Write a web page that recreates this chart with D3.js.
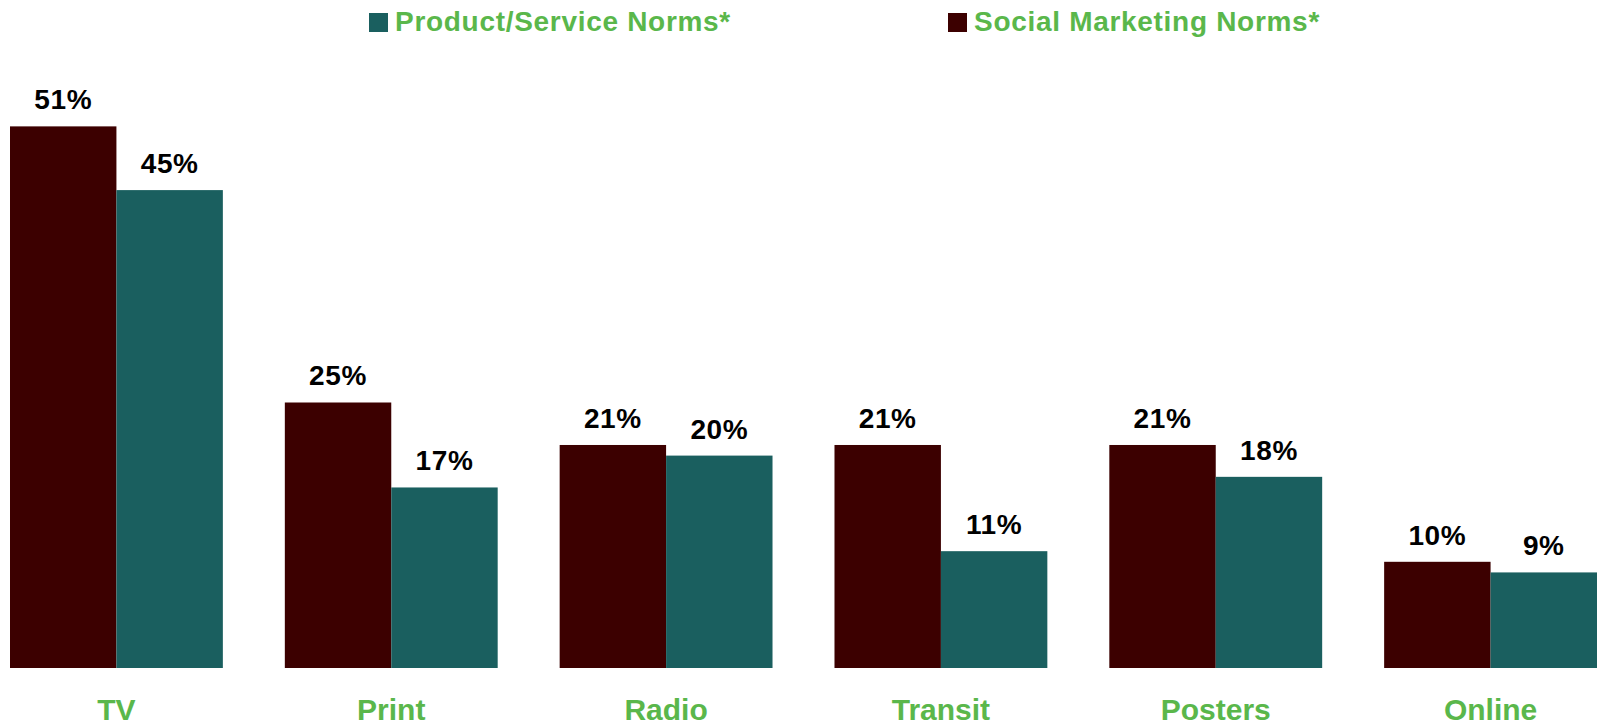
<!DOCTYPE html>
<html>
<head>
<meta charset="utf-8">
<script src="https://cdn.jsdelivr.net/npm/d3@7"></script>
<style>
  html, body { margin: 0; padding: 0; background: #fff; }
  svg { display: block; }
</style>
</head>
<body>
<svg id="chart" width="1605" height="727"></svg>
<script>
// data
const categories = ['TV', 'Print', 'Radio', 'Transit', 'Posters', 'Online']
const socialValues = [51, 25, 21, 21, 21, 10]
const productValues = [45, 17, 20, 11, 18, 9]
const seriesNames = ['Social Marketing Norms*', 'Product/Service Norms*']
const legendOrder = ['Product/Service Norms*', 'Social Marketing Norms*']

const colors = {
  'Social Marketing Norms*': '#3c0000',
  'Product/Service Norms*': '#1a5f5f'
}
const green = '#5ab74b'

const width = 1605, height = 727
const baseline = 668

const rows = categories.map((c, i) => ({
  cat: c,
  values: [
    {name: seriesNames[0], v: socialValues[i]},
    {name: seriesNames[1], v: productValues[i]}
  ]
}))

const svg = d3.select('#chart')

var x0 = d3.scaleBand()
  .domain(categories)
  .range([10, 1597])
  .paddingInner(0.2255)
  .paddingOuter(0)

var x1 = d3.scaleBand()
  .domain(seriesNames)
  .range([0, x0.bandwidth()])

var y = d3.scaleLinear()
  .domain([0, 62.9])
  .range([baseline, 0])

const groups = svg.append('g').selectAll('g')
  .data(rows)
  .join('g')
  .attr('transform', d => `translate(${x0(d.cat)},0)`)

groups.selectAll('rect')
  .data(d => d.values)
  .join('rect')
  .attr('x', d => x1(d.name))
  .attr('y', d => y(d.v))
  .attr('width', x1.bandwidth())
  .attr('height', d => y(0) - y(d.v))
  .attr('fill', d => colors[d.name])

groups.selectAll('text.val')
  .data(d => d.values)
  .join('text')
  .attr('class', 'val')
  .attr('x', d => x1(d.name) + x1.bandwidth() / 2)
  .attr('y', d => y(d.v) - 17)
  .attr('text-anchor', 'middle')
  .style('font', 'bold 28px "Liberation Sans", Arial, sans-serif')
  .style('letter-spacing', '0.6px')
  .attr('fill', '#000')
  .text(d => d.v + '%')

// category axis (no line, no ticks)
const xAxis = svg.append('g')
  .attr('transform', `translate(0,${baseline})`)
  .call(d3.axisBottom(x0).tickSize(0).tickPadding(0))
xAxis.select('.domain').remove()
xAxis.selectAll('text')
  .attr('dy', null)
  .attr('y', 52)
  .style('font', 'bold 30px "Liberation Sans", Arial, sans-serif')
  .attr('fill', green)

// legend
const legendX = [369, 948]
const legend = svg.append('g').selectAll('g')
  .data(legendOrder)
  .join('g')
  .attr('transform', (d, i) => `translate(${legendX[i]},13)`)
legend.append('rect')
  .attr('width', 19).attr('height', 19)
  .attr('fill', d => colors[d])
legend.append('text')
  .attr('x', 26).attr('y', 18)
  .style('font', 'bold 28px "Liberation Sans", Arial, sans-serif')
  .style('letter-spacing', '0.7px')
  .attr('fill', green)
  .text(d => d)
</script>
</body>
</html>
